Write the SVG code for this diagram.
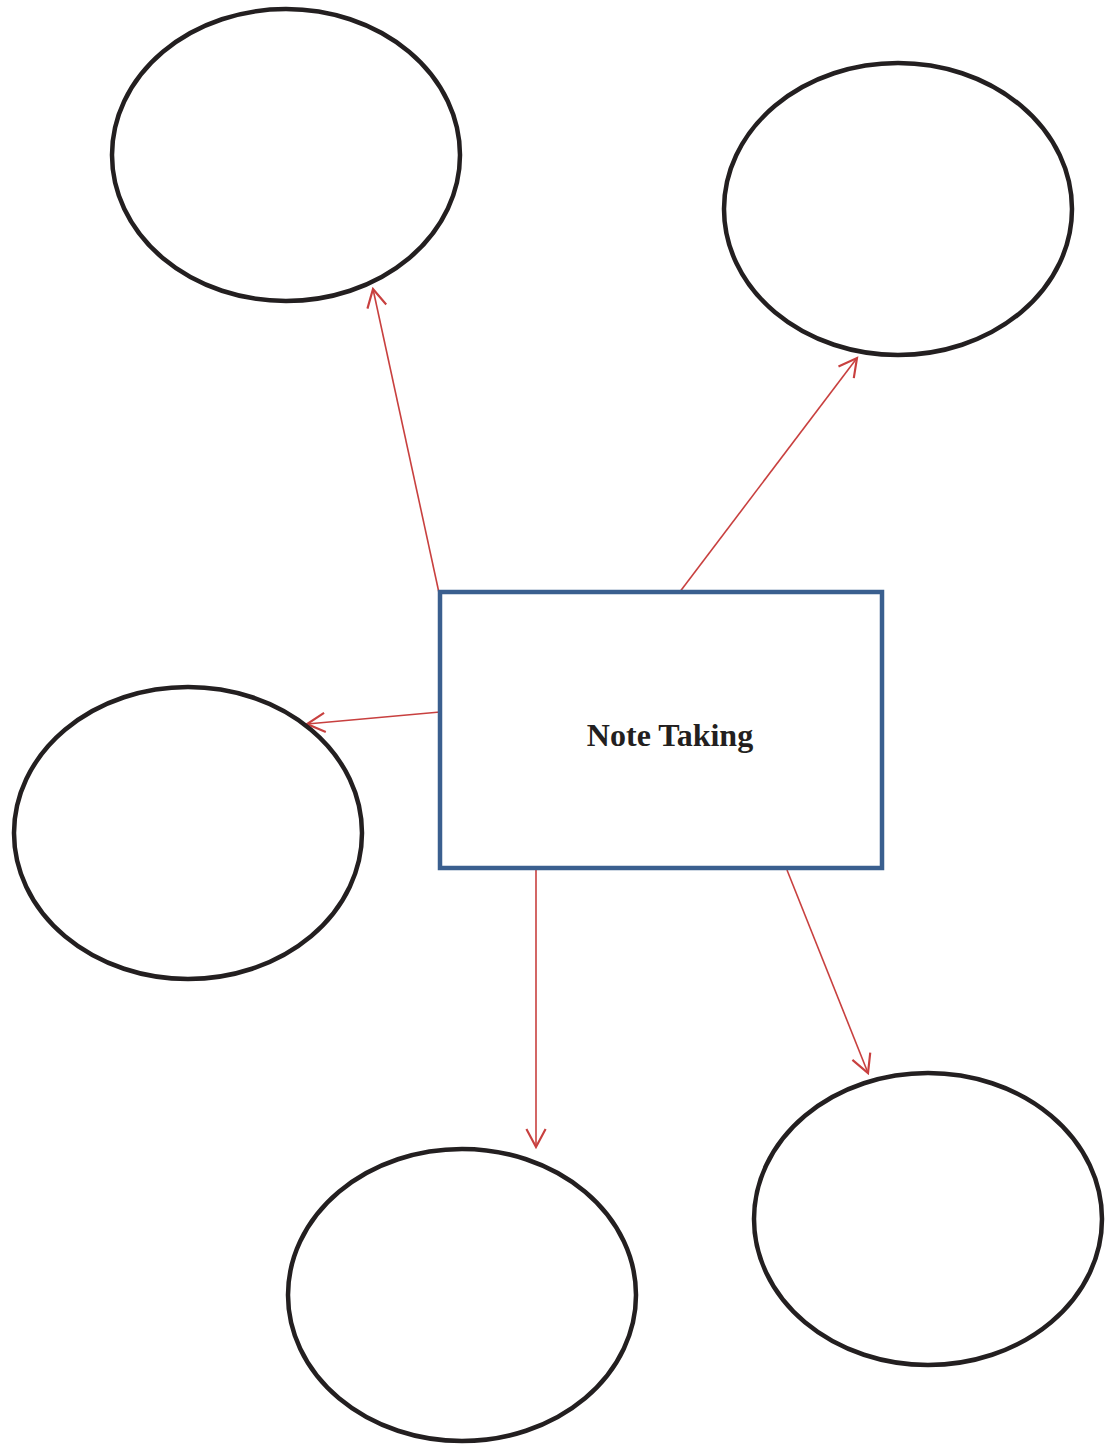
<svg xmlns="http://www.w3.org/2000/svg" width="1105" height="1446" viewBox="0 0 1105 1446">
<style>
.oval{fill:none;stroke:#231f20;stroke-width:4.5}
.box{fill:none;stroke:#3a5f8f;stroke-width:4.5}
.conn{fill:none;stroke:#c8403f;stroke-width:1.6}
.lbl{font-family:"Liberation Serif",serif;font-weight:bold;font-size:32px;fill:#231f20}
</style>
<defs>
<marker id="ah" markerUnits="userSpaceOnUse" markerWidth="24" markerHeight="24" viewBox="-18 -10 20 20" refX="0" refY="0" orient="auto">
<path d="M-15,-8 L0,0 L-15,8" fill="none" stroke="#c8403f" stroke-width="1.8"/>
</marker>
</defs>
<rect width="1105" height="1446" fill="#fff"/>
<g id="connectors">
<line class="conn" x1="441" y1="602" x2="373" y2="289" marker-end="url(#ah)"/>
<line class="conn" x1="679" y1="593" x2="857" y2="358" marker-end="url(#ah)"/>
<line class="conn" x1="440" y1="712" x2="307" y2="724" marker-end="url(#ah)"/>
<line class="conn" x1="536" y1="868" x2="536" y2="1147" marker-end="url(#ah)"/>
<line class="conn" x1="787" y1="870" x2="868" y2="1073" marker-end="url(#ah)"/>
</g>
<g id="center">
<rect class="box" x="440" y="592" width="442" height="276"/>
<text class="lbl" x="670" y="746" text-anchor="middle">Note Taking</text>
</g>
<g id="oval1"><ellipse class="oval" cx="286" cy="155" rx="174" ry="146"/></g>
<g id="oval2"><ellipse class="oval" cx="898" cy="209" rx="174" ry="146"/></g>
<g id="oval3"><ellipse class="oval" cx="188" cy="833" rx="174" ry="146"/></g>
<g id="oval4"><ellipse class="oval" cx="462" cy="1295" rx="174" ry="146"/></g>
<g id="oval5"><ellipse class="oval" cx="928" cy="1219" rx="174" ry="146"/></g>
</svg>
